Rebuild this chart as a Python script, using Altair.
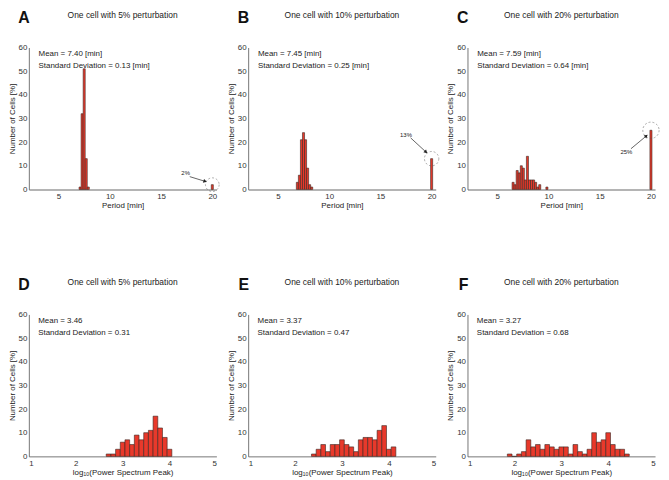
import altair as alt
import pandas as pd

FONT = "Liberation Sans"
BAR_FILL = "#e8392b"
BAR_STROKE = "#3a2622"

# ---- Period histograms (bin centres [min], % of cells) ----
a_centers = [7.1, 7.3, 7.5, 7.7, 7.9, 20.0]
a_values = [1, 32, 51, 13, 1, 2]
b_centers = [6.9, 7.1, 7.3, 7.5, 7.7, 7.9, 8.1, 8.3, 20.0]
b_values = [3, 6, 21, 24, 21, 9, 2, 1, 13]
c_centers = [6.55, 6.75, 6.95, 7.15, 7.35, 7.55, 7.75, 7.95, 8.15, 8.35,
             8.55, 8.75, 8.95, 9.15, 9.85, 20.0]
c_values = [3, 2, 8, 7, 10, 9, 4, 14, 4, 4, 4, 3, 1, 2, 1, 25]
period_bin = 0.2

# ---- log10(power spectrum peak) histograms ----
d_centers = [2.7, 2.8, 2.9, 3.0, 3.1, 3.2, 3.3, 3.4, 3.5, 3.6, 3.7, 3.8, 3.9, 4.0]
d_values = [1, 1, 3, 6, 7, 5, 9, 7, 10, 11, 17, 12, 8, 3]
e_centers = [2.4, 2.5, 2.6, 2.7, 2.8, 2.9, 3.0, 3.1, 3.2, 3.3, 3.4, 3.5, 3.6,
             3.7, 3.8, 3.9, 4.0, 4.1]
e_values = [1, 3, 5, 2, 5, 5, 7, 5, 4, 2, 7, 8, 8, 7, 11, 13, 3, 4]
f_centers = [1.9, 2.0, 2.1, 2.2, 2.3, 2.4, 2.5, 2.6, 2.7, 2.8, 2.9, 3.0, 3.1,
             3.2, 3.3, 3.4, 3.5, 3.6, 3.7, 3.8, 3.9, 4.0, 4.1, 4.2, 4.3, 4.4]
f_values = [1, 0, 1, 2, 7, 4, 5, 3, 5, 4, 3, 4, 4, 1, 5, 2, 1, 3, 10, 6, 7,
            10, 5, 3, 3, 1]
power_bin = 0.1

letters = ["A", "B", "C", "D", "E", "F"]
titles = ["One cell with 5% perturbation", "One cell with 10% perturbation",
          "One cell with 20% perturbation"] * 2
stats = [
    ["Mean = 7.40 [min]", "Standard Deviation = 0.13 [min]"],
    ["Mean = 7.45 [min]", "Standard Deviation = 0.25 [min]"],
    ["Mean = 7.59 [min]", "Standard Deviation = 0.64 [min]"],
    ["Mean = 3.46", "Standard Deviation = 0.31"],
    ["Mean = 3.37", "Standard Deviation = 0.47"],
    ["Mean = 3.27", "Standard Deviation = 0.68"],
]
stats_y = [57.2, 52.0]

period_domain = [2.1, 20.4]
period_ticks = [5, 10, 15, 20]
power_domain = [1, 5]
power_ticks = [1, 2, 3, 4, 5]
y_ticks = [0, 10, 20, 30, 40, 50, 60]

# Outlier annotations (percentage of cells at the 20 min cap)
ann_labels = ["2%", "13%", "25%"]
ann_circle_x = [20, 20, 20]
ann_circle_y = [2, 13, 25]
ann_circle_size = [190, 210, 270]
ann_label_x = [17.4, 17.5, 17.6]
ann_label_y = [6.8, 23.0, 15.9]
ann_arrow_x1 = [17.8, 17.95, 18.05]
ann_arrow_y1 = [5.4, 21.8, 17.2]
ann_arrow_x2 = [19.3, 19.45, 19.55]
ann_arrow_y2 = [3.4, 15.8, 22.6]
ann_arrow_angle = [17, 43, 319]

W, H = 189, 143


def panel(i, centers, values, binw, xdom, xticks, xtitle, xcolor, xwidth, sx):
    xs = alt.Scale(domain=xdom, nice=False, zero=False)
    ys = alt.Scale(domain=[0, 60], nice=False)
    xax = alt.Axis(values=xticks, ticks=False, labelPadding=3, titlePadding=1,
                   domainColor=xcolor, domainWidth=xwidth, grid=False,
                   labelFont=FONT, titleFont=FONT, labelFontSize=8, titleFontSize=8,
                   labelColor="#333", titleColor="#222", titleFontWeight="normal")
    yax = alt.Axis(values=y_ticks, ticks=False, labelPadding=2, titlePadding=2,
                   domainColor="#555", domainWidth=0.8, grid=False,
                   labelFont=FONT, titleFont=FONT, labelFontSize=8, titleFontSize=8,
                   labelColor="#333", titleColor="#222", titleFontWeight="normal")
    ytitle = "Number of Cells [%]"

    def X(f):
        return alt.X(f, type="quantitative", scale=xs, axis=xax, title=xtitle)

    def Y(f):
        return alt.Y(f, type="quantitative", scale=ys, axis=yax, title=ytitle)

    df = pd.DataFrame({"c": centers, "v": values})
    bars = alt.Chart(df).transform_calculate(
        x0=f"datum.c - {binw / 2}", x1=f"datum.c + {binw / 2}", z="0"
    ).mark_rect(fill=BAR_FILL, stroke=BAR_STROKE, strokeWidth=0.6).encode(
        x=X("x0"), x2=alt.X2("x1"), y=Y("v"), y2=alt.Y2("z")
    )

    sdf = pd.DataFrame({"sx": [sx, sx], "sy": stats_y, "t": stats[i]})
    st = alt.Chart(sdf).mark_text(align="left", baseline="middle", font=FONT,
                                  fontSize=8, color="#222").encode(
        x=X("sx"), y=Y("sy"), text="t:N")

    ldf = pd.DataFrame({"t": [letters[i]]})
    let = alt.Chart(ldf).mark_text(align="right", baseline="alphabetic", font=FONT,
                                   fontSize=16, fontWeight="bold", color="#111").encode(
        x=alt.value(1), y=alt.value(-25), text="t:N")

    tdf = pd.DataFrame({"t": [titles[i]]})
    ttl = alt.Chart(tdf).mark_text(align="center", baseline="middle", font=FONT,
                                   fontSize=8.5, color="#222").encode(
        x=alt.value(W / 2), y=alt.value(-33), text="t:N")

    layers = [bars, st, let, ttl]

    if i < 3:
        adf = pd.DataFrame({
            "cx": [ann_circle_x[i]], "cy": [ann_circle_y[i]],
            "lx": [ann_label_x[i]], "ly": [ann_label_y[i]],
            "ax1": [ann_arrow_x1[i]], "ay1": [ann_arrow_y1[i]],
            "ax2": [ann_arrow_x2[i]], "ay2": [ann_arrow_y2[i]],
            "t": [ann_labels[i]],
        })
        circ = alt.Chart(adf).mark_point(shape="circle", filled=False,
                                         size=ann_circle_size[i], stroke="#555",
                                         strokeWidth=0.7, strokeDash=[2, 2]).encode(
            x=X("cx"), y=Y("cy"))
        rule = alt.Chart(adf).mark_rule(color="#222", strokeWidth=0.7).encode(
            x=X("ax1"), y=Y("ay1"), x2=alt.X2("ax2"), y2=alt.Y2("ay2"))
        head = alt.Chart(adf).mark_point(shape="triangle-right", filled=True,
                                         size=16, color="#222", opacity=1,
                                         angle=ann_arrow_angle[i]).encode(
            x=X("ax2"), y=Y("ay2"))
        lab = alt.Chart(adf).mark_text(font=FONT, fontSize=6, color="#222").encode(
            x=X("lx"), y=Y("ly"), text="t:N")
        layers += [circ, rule, head, lab]

    return alt.layer(*layers).properties(width=W, height=H)


period_title = "Period [min]"
power_title = "log\u2081\u2080(Power Spectrum Peak)"

panels = [
    panel(0, a_centers, a_values, period_bin, period_domain, period_ticks,
          period_title, "#b4b4b4", 2, 3.05),
    panel(1, b_centers, b_values, period_bin, period_domain, period_ticks,
          period_title, "#b4b4b4", 2, 3.05),
    panel(2, c_centers, c_values, period_bin, period_domain, period_ticks,
          period_title, "#b4b4b4", 2, 3.05),
    panel(3, d_centers, d_values, power_bin, power_domain, power_ticks,
          power_title, "#555", 0.8, 1.2),
    panel(4, e_centers, e_values, power_bin, power_domain, power_ticks,
          power_title, "#555", 0.8, 1.2),
    panel(5, f_centers, f_values, power_bin, power_domain, power_ticks,
          power_title, "#555", 0.8, 1.2),
]

chart = alt.concat(
    *panels, columns=3, spacing={"row": 126, "column": 32}, bounds="flush",
    padding=0,
).configure_view(stroke=None)

chart.save("out.html", embed_options={"renderer": "svg", "actions": False})
